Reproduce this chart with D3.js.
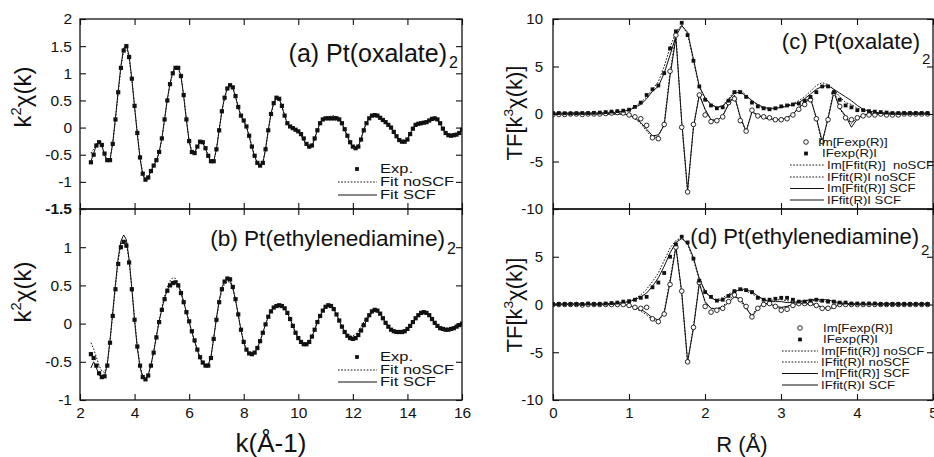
<!DOCTYPE html>
<html>
<head>
<meta charset="utf-8">
<script src="https://cdn.jsdelivr.net/npm/d3@7"></script>
<style>
  body { margin: 0; background: #fff; }
  svg { display: block; font-family: "Liberation Sans", Arial, Helvetica, sans-serif; }
</style>
</head>
<body>
<svg id="fig" width="934" height="457"></svg>
<script>
// ---------- k-space EXAFS, sampled from k = 2.4 in steps of 0.1 Å^-1 ----------
const kStart = 2.4, kStep = 0.1;

// (a) Pt(oxalate)2
const expA = [
-0.64,-0.50,-0.33,-0.27,-0.32,-0.48,-0.60,-0.60,-0.30,0.15,
0.65,1.10,1.42,1.50,1.30,0.90,0.40,-0.10,-0.55,-0.85,
-0.96,-0.92,-0.80,-0.70,-0.60,-0.45,-0.20,0.15,0.50,0.80,
1.00,1.10,1.10,0.95,0.60,0.15,-0.25,-0.45,-0.47,-0.35,
-0.26,-0.27,-0.38,-0.52,-0.62,-0.62,-0.40,-0.05,0.30,0.55,
0.72,0.78,0.74,0.58,0.38,0.22,0.13,0.02,-0.15,-0.35,
-0.52,-0.65,-0.70,-0.65,-0.40,-0.05,0.25,0.45,0.55,0.53,
0.40,0.22,0.08,0.02,-0.01,-0.04,-0.07,-0.12,-0.20,-0.30,
-0.35,-0.33,-0.20,-0.05,0.08,0.15,0.17,0.17,0.17,0.17,
0.17,0.15,0.08,-0.03,-0.15,-0.27,-0.35,-0.38,-0.35,-0.22,
-0.05,0.08,0.17,0.22,0.23,0.22,0.18,0.14,0.10,0.05,
0.00,-0.08,-0.16,-0.23,-0.26,-0.26,-0.22,-0.12,-0.02,0.05,
0.07,0.08,0.09,0.10,0.13,0.16,0.17,0.15,0.08,-0.02,
-0.10,-0.14,-0.15,-0.14,-0.13,-0.10,-0.04];
const fitNoScfA = [
-0.47,-0.40,-0.30,-0.28,-0.34,-0.49,-0.60,-0.58,-0.30,0.14,
0.63,1.10,1.43,1.49,1.28,0.88,0.40,-0.10,-0.54,-0.84,
-0.95,-0.91,-0.80,-0.70,-0.60,-0.45,-0.21,0.14,0.50,0.80,
1.00,1.09,1.09,0.94,0.60,0.16,-0.24,-0.44,-0.46,-0.35,
-0.27,-0.28,-0.38,-0.52,-0.62,-0.61,-0.41,-0.06,0.29,0.54,
0.72,0.77,0.73,0.58,0.38,0.22,0.13,0.02,-0.15,-0.35,
-0.52,-0.65,-0.69,-0.64,-0.40,-0.06,0.24,0.44,0.54,0.52,
0.40,0.22,0.08,0.02,-0.01,-0.04,-0.07,-0.13,-0.21,-0.31,
-0.35,-0.32,-0.19,-0.04,0.09,0.16,0.18,0.19,0.21,0.22,
0.20,0.15,0.07,-0.04,-0.16,-0.28,-0.35,-0.37,-0.33,-0.20,
-0.04,0.09,0.18,0.22,0.22,0.21,0.17,0.13,0.09,0.04,
0.00,-0.07,-0.15,-0.22,-0.25,-0.25,-0.21,-0.11,-0.02,0.05,
0.07,0.09,0.10,0.11,0.13,0.15,0.16,0.14,0.08,-0.02,
-0.10,-0.14,-0.15,-0.15,-0.13,-0.10,-0.05];
const fitScfA = [
-0.62,-0.48,-0.32,-0.27,-0.33,-0.50,-0.62,-0.60,-0.28,0.18,
0.68,1.14,1.46,1.53,1.32,0.90,0.38,-0.12,-0.57,-0.87,
-0.97,-0.92,-0.80,-0.70,-0.61,-0.46,-0.20,0.16,0.52,0.82,
1.02,1.12,1.11,0.95,0.58,0.13,-0.26,-0.46,-0.47,-0.35,
-0.27,-0.28,-0.39,-0.53,-0.63,-0.62,-0.40,-0.04,0.31,0.56,
0.73,0.77,0.73,0.57,0.37,0.21,0.12,0.01,-0.16,-0.36,
-0.53,-0.66,-0.71,-0.66,-0.40,-0.04,0.26,0.46,0.56,0.53,
0.39,0.21,0.07,0.01,-0.02,-0.05,-0.08,-0.14,-0.23,-0.33,
-0.38,-0.35,-0.21,-0.05,0.09,0.16,0.18,0.18,0.18,0.19,
0.20,0.16,0.08,-0.04,-0.16,-0.28,-0.36,-0.38,-0.35,-0.21,
-0.04,0.09,0.18,0.23,0.24,0.22,0.18,0.14,0.10,0.04,
-0.01,-0.09,-0.17,-0.24,-0.27,-0.26,-0.21,-0.11,-0.01,0.05,
0.07,0.08,0.09,0.11,0.14,0.16,0.17,0.14,0.07,-0.03,
-0.11,-0.15,-0.15,-0.14,-0.12,-0.09,-0.03];

// (b) Pt(ethylenediamine)2
const expB = [
-0.40,-0.45,-0.55,-0.65,-0.70,-0.69,-0.55,-0.25,0.10,0.45,
0.78,1.00,1.07,1.02,0.80,0.45,0.05,-0.30,-0.55,-0.70,
-0.73,-0.68,-0.55,-0.38,-0.18,0.02,0.18,0.32,0.43,0.50,
0.53,0.54,0.50,0.40,0.28,0.15,0.03,-0.10,-0.22,-0.34,
-0.44,-0.51,-0.55,-0.55,-0.45,-0.20,0.05,0.28,0.45,0.55,
0.59,0.58,0.48,0.32,0.12,-0.08,-0.24,-0.34,-0.39,-0.40,
-0.38,-0.32,-0.23,-0.12,-0.01,0.09,0.16,0.21,0.23,0.24,
0.23,0.20,0.14,0.06,-0.03,-0.12,-0.19,-0.24,-0.27,-0.27,
-0.24,-0.17,-0.08,0.02,0.10,0.17,0.22,0.24,0.23,0.19,
0.12,0.04,-0.04,-0.11,-0.16,-0.19,-0.20,-0.19,-0.15,-0.09,
-0.02,0.05,0.11,0.16,0.18,0.17,0.13,0.07,0.01,-0.04,
-0.08,-0.10,-0.11,-0.11,-0.11,-0.10,-0.07,-0.03,0.02,0.07,
0.11,0.14,0.15,0.14,0.11,0.06,0.01,-0.03,-0.06,-0.07,
-0.08,-0.08,-0.07,-0.06,-0.04,-0.02,0.00];
const fitNoScfB = [
-0.25,-0.33,-0.44,-0.55,-0.62,-0.64,-0.52,-0.24,0.12,0.48,
0.82,1.04,1.10,1.05,0.82,0.47,0.07,-0.29,-0.54,-0.69,
-0.73,-0.68,-0.55,-0.37,-0.16,0.04,0.21,0.36,0.48,0.56,
0.60,0.59,0.53,0.42,0.29,0.15,0.02,-0.11,-0.23,-0.34,
-0.44,-0.51,-0.54,-0.53,-0.43,-0.19,0.06,0.28,0.44,0.52,
0.55,0.54,0.46,0.31,0.12,-0.08,-0.24,-0.34,-0.39,-0.40,
-0.38,-0.32,-0.23,-0.12,-0.01,0.09,0.16,0.21,0.23,0.24,
0.23,0.20,0.14,0.06,-0.03,-0.12,-0.19,-0.24,-0.27,-0.27,
-0.24,-0.17,-0.08,0.02,0.10,0.17,0.22,0.24,0.23,0.19,
0.12,0.04,-0.04,-0.10,-0.14,-0.16,-0.16,-0.14,-0.10,-0.04,
0.02,0.07,0.11,0.14,0.16,0.15,0.12,0.07,0.01,-0.04,
-0.08,-0.10,-0.11,-0.11,-0.11,-0.10,-0.07,-0.03,0.02,0.07,
0.11,0.14,0.15,0.14,0.11,0.06,0.01,-0.03,-0.06,-0.07,
-0.08,-0.08,-0.07,-0.06,-0.04,-0.02,0.00];
const fitScfB = [
-0.58,-0.50,-0.58,-0.67,-0.71,-0.69,-0.53,-0.22,0.15,0.52,
0.86,1.08,1.16,1.10,0.84,0.46,0.04,-0.32,-0.57,-0.71,
-0.73,-0.67,-0.54,-0.37,-0.17,0.03,0.19,0.33,0.44,0.51,
0.54,0.54,0.50,0.40,0.28,0.15,0.02,-0.11,-0.23,-0.35,
-0.45,-0.52,-0.55,-0.54,-0.44,-0.19,0.07,0.30,0.47,0.56,
0.59,0.57,0.47,0.31,0.11,-0.09,-0.25,-0.35,-0.40,-0.41,
-0.38,-0.32,-0.23,-0.12,-0.01,0.09,0.16,0.21,0.23,0.24,
0.23,0.20,0.14,0.06,-0.03,-0.12,-0.19,-0.24,-0.27,-0.27,
-0.24,-0.17,-0.08,0.02,0.10,0.17,0.22,0.24,0.23,0.19,
0.12,0.04,-0.04,-0.11,-0.16,-0.19,-0.20,-0.19,-0.15,-0.09,
-0.03,0.04,0.10,0.15,0.18,0.17,0.13,0.07,0.01,-0.04,
-0.08,-0.10,-0.11,-0.12,-0.11,-0.10,-0.07,-0.03,0.02,0.07,
0.11,0.14,0.15,0.14,0.11,0.06,0.01,-0.03,-0.06,-0.07,
-0.08,-0.08,-0.08,-0.07,-0.05,-0.03,-0.01];

// ---------- Fourier transforms, sampled from R = 0 in steps of 0.077 Å ----------
const rStep = 0.077;

// (c) Pt(oxalate)2
const absExpC = [
0.10,0.10,0.08,0.06,0.08,0.10,0.10,0.12,0.15,0.20,
0.25,0.30,0.35,0.45,0.75,1.20,2.00,2.60,3.00,4.30,
6.90,8.70,9.60,8.30,5.60,2.90,1.50,0.90,0.60,0.70,
1.40,2.30,2.30,1.80,1.20,0.80,0.60,0.50,0.60,0.80,
0.90,1.00,1.10,1.40,1.80,2.30,2.90,2.90,2.30,1.50,
0.90,0.70,0.40,0.40,0.30,0.25,0.20,0.15,0.10,0.10,
0.10,0.10,0.10,0.10,0.10];
const imExpC = [
-0.05,-0.05,-0.05,0.00,0.00,-0.05,0.00,0.00,0.00,0.05,
0.10,0.15,0.10,-0.10,-0.30,-0.50,-1.20,-2.50,-2.60,-1.10,
4.50,8.30,-1.40,-8.20,-1.10,2.00,-0.10,-0.80,-0.70,-0.30,
1.20,1.60,-0.70,-1.80,0.40,-0.20,-0.30,-0.40,-0.60,-0.60,
-0.50,-0.10,0.50,1.00,1.50,-0.50,-2.90,-0.60,2.20,0.80,
-0.40,-0.60,-0.40,-0.20,-0.10,-0.10,0.00,-0.10,-0.10,-0.10,
0.00,0.00,0.00,0.00,0.00];
const imFitNoScfC = [
0,0,0,0,0,0,0,0,0,0,
0,0,0,-0.10,-0.50,-1.00,-1.80,-2.50,-2.40,-1.00,
4.40,8.40,-1.00,-8.30,-1.30,2.10,0.40,-0.60,-0.70,-0.20,
1.10,2.00,-0.40,-1.90,0.30,-0.10,-0.40,-0.50,-0.60,-0.60,
-0.40,0.00,0.70,1.30,1.80,-0.50,-3.10,-0.40,2.60,0.50,
-0.30,-1.00,-0.40,-0.10,0,0,0,0,0,0,
0,0,0,0,0];
const absFitNoScfC = [
0.10,0.10,0.10,0.10,0.10,0.10,0.10,0.10,0.10,0.10,
0.10,0.20,0.30,0.45,0.80,1.20,1.80,2.60,3.40,5.00,
7.00,8.60,9.40,8.40,5.60,2.80,1.60,1.00,0.70,0.90,
1.60,2.40,2.50,2.00,1.40,0.90,0.60,0.50,0.60,0.70,
0.90,1.10,1.40,1.80,2.40,3.00,3.30,3.10,2.60,1.80,
1.20,1.00,0.60,0.40,0.20,0.10,0.10,0.10,0.10,0.10,
0.10,0.10,0.10,0.10,0.10];
const imFitScfC = [
0,0,0,0,0,0,0,0,0,0,
0,0,0,-0.10,-0.40,-0.90,-1.60,-2.30,-2.20,-1.20,
4.00,8.00,-0.80,-8.00,-1.40,2.00,0.50,-0.60,-0.70,-0.20,
1.00,1.90,-0.30,-1.80,0.20,-0.10,-0.40,-0.50,-0.60,-0.60,
-0.40,0.00,0.60,1.20,1.60,-0.40,-2.90,-0.50,2.30,0.60,
-0.20,-1.40,-0.50,-0.10,0,0,0,0,0,0,
0,0,0,0,0];
const absFitScfC = [
0.10,0.10,0.10,0.10,0.10,0.10,0.10,0.10,0.10,0.10,
0.10,0.20,0.30,0.40,0.70,1.00,1.60,2.40,2.90,4.30,
6.20,8.20,9.30,8.60,5.80,2.90,1.70,1.00,0.70,0.80,
1.50,2.20,2.30,1.90,1.40,1.00,0.70,0.60,0.60,0.70,
0.80,1.00,1.20,1.60,2.10,2.60,2.90,3.00,2.60,2.20,
1.80,1.40,0.90,0.50,0.30,0.20,0.10,0.10,0.10,0.10,
0.10,0.10,0.10,0.10,0.10];

// (d) Pt(ethylenediamine)2
const absExpD = [
0.05,0.05,0.05,0.05,0.05,0.05,0.10,0.05,0.05,0.10,
0.15,0.20,0.30,0.35,0.50,0.70,0.80,1.80,2.30,3.30,
5.00,6.30,7.10,6.50,4.80,2.50,1.30,0.80,0.40,0.50,
0.90,1.40,1.60,1.50,1.30,0.70,0.50,0.50,0.60,0.70,
0.70,0.50,0.30,0.30,0.40,0.50,0.40,0.30,0.30,0.20,
0.20,0.10,0.10,0.10,0.10,0.10,0.05,0.05,0.05,0.05,
0.05,0.05,0.05,0.05,0.05];
const imExpD = [
0,0,0,0,0,-0.05,0,0,0,0,
0,0,0,-0.10,-0.30,-0.40,-0.30,-1.50,-1.80,-1.00,
2.10,6.00,1.40,-6.00,-2.40,2.30,-0.20,-0.80,-0.60,-0.40,
0.30,1.00,0.50,-0.20,-1.30,-0.40,0.00,0.10,-0.20,-0.60,
-0.50,-0.10,0.10,0.10,0.10,-0.10,-0.40,-0.40,-0.20,0.00,
0,0,0,0,0,0,0,0,0,0,
0,0,0,0,0];
const imFitNoScfD = [
0,0,0,0,0,0,0,0,0,0,
0,0,0,-0.10,-0.40,-0.70,-1.10,-1.60,-1.90,-0.70,
2.60,6.20,1.00,-6.10,-2.30,2.30,0.20,-0.40,-0.40,-0.20,
0.40,1.00,0.40,-0.50,-1.10,-0.30,0.10,0.00,-0.30,-0.40,
-0.20,0.00,0.10,0.10,0.00,-0.10,-0.30,-0.30,-0.10,0.00,
0,0,0,0,0,0,0,0,0,0,
0,0,0,0,0];
const absFitNoScfD = [
0.05,0.05,0.05,0.05,0.05,0.05,0.05,0.05,0.05,0.05,
0.10,0.15,0.20,0.35,0.60,1.00,1.60,2.40,3.30,4.60,
5.90,6.70,7.00,6.30,4.70,2.60,1.30,0.70,0.50,0.70,
1.10,1.40,1.50,1.40,1.10,0.80,0.50,0.40,0.50,0.50,
0.40,0.30,0.30,0.40,0.40,0.40,0.30,0.30,0.20,0.10,
0.05,0.05,0.05,0.05,0.05,0.05,0.05,0.05,0.05,0.05,
0.05,0.05,0.05,0.05,0.05];
const imFitScfD = [
0,0,0,0,0,0,0,0,0,0,
0,0,0,-0.10,-0.30,-0.50,-0.90,-1.40,-1.60,-0.90,
2.30,6.00,1.30,-6.00,-2.50,2.20,0.30,-0.40,-0.50,-0.30,
0.20,0.80,0.60,-0.30,-1.30,-0.40,0.10,0.10,-0.20,-0.30,
-0.20,0.00,0.10,0.10,0.10,0.00,-0.30,-0.50,-0.30,0.00,
0,0,0,0,0,0,0,0,0,0,
0,0,0,0,0];
const absFitScfD = [
0.05,0.05,0.05,0.05,0.05,0.05,0.05,0.05,0.05,0.05,
0.10,0.15,0.20,0.30,0.50,0.80,1.20,1.90,2.80,4.00,
5.40,6.50,6.90,6.40,4.90,2.70,1.40,0.70,0.40,0.50,
0.90,1.30,1.60,1.60,1.30,0.90,0.50,0.30,0.30,0.30,
0.20,0.20,0.30,0.40,0.50,0.50,0.50,0.50,0.30,0.20,
0.10,0.05,0.05,0.05,0.05,0.05,0.05,0.05,0.05,0.05,
0.05,0.05,0.05,0.05,0.05];

// ---------- tick values ----------
const kTicks = [2, 4, 6, 8, 10, 12, 14, 16];
const rTicks = [0, 1, 2, 3, 4, 5];
const yTicksA = [-1.5, -1, -0.5, 0, 0.5, 1, 1.5, 2];
const yTicksB = [-1, -0.5, 0, 0.5, 1, 1.5];
const yLabelsB = [-1, -0.5, 0, 0.5, 1];
const ftTicks = [-10, -5, 0, 5, 10];
const ftLabelsD = [-10, -5, 0, 5];

// ---------- drawing ----------
const svg = d3.select("#fig");
const ink = "#111";

const kGrid = expA.map((_, i) => +(kStart + i * kStep).toFixed(2));
const rGrid = absExpC.map((_, i) => +(i * rStep).toFixed(3));

const xK = d3.scaleLinear().domain([2, 16]).range([80, 462]);
const xR = d3.scaleLinear().domain([0, 5]).range([553, 933]);
const yA = d3.scaleLinear().domain([-1.5, 2]).range([209, 19]);
const yB = d3.scaleLinear().domain([-1, 1.5]).range([400, 209]);
const yC = d3.scaleLinear().domain([-10, 10]).range([209, 19]);
const yD = d3.scaleLinear().domain([-10, 10]).range([400, 209]);

let clipId = 0;
function panel(x, y) {
  const id = "clip" + (clipId++);
  svg.append("clipPath").attr("id", id).append("rect")
    .attr("x", x.range()[0]).attr("y", y.range()[1])
    .attr("width", x.range()[1] - x.range()[0])
    .attr("height", y.range()[0] - y.range()[1]);
  return svg.append("g").attr("clip-path", `url(#${id})`);
}

function frame(x, y) {
  svg.append("rect")
    .attr("x", x.range()[0]).attr("y", y.range()[1])
    .attr("width", x.range()[1] - x.range()[0])
    .attr("height", y.range()[0] - y.range()[1])
    .attr("fill", "none").attr("stroke", ink).attr("stroke-width", 1.3);
}

function styleAxis(g, size) {
  g.attr("font-family", null).attr("font-size", null).attr("color", ink);
  g.select(".domain").remove();
  g.selectAll(".tick line").attr("stroke-width", 1.1);
  g.selectAll(".tick text").attr("font-size", size).attr("fill", ink);
}

function yAxes(x, y, ticks, labels, pad, size) {
  const gl = svg.append("g").attr("transform", `translate(${x.range()[0]},0)`)
    .call(d3.axisLeft(y).tickValues(ticks).tickSize(-6).tickPadding(pad)
      .tickFormat(d => labels.includes(d) ? String(d) : ""));
  styleAxis(gl, size);
  const gr = svg.append("g").attr("transform", `translate(${x.range()[1]},0)`)
    .call(d3.axisRight(y).tickValues(ticks).tickSize(-6).tickFormat(""));
  styleAxis(gr, size);
  return gl;
}

function xTopTicks(x, y, ticks) {
  const g = svg.append("g").attr("transform", `translate(0,${y.range()[1]})`)
    .call(d3.axisTop(x).tickValues(ticks).tickSize(-6).tickFormat(""));
  styleAxis(g, 10);
}

function xBottom(x, y, ticks, size, withLabels) {
  const g = svg.append("g").attr("transform", `translate(0,${y.range()[0]})`)
    .call(d3.axisBottom(x).tickValues(ticks).tickSize(-6).tickPadding(7)
      .tickFormat(withLabels ? (d => String(d)) : ""));
  styleAxis(g, size);
}

function lineOn(g, x, grid, y, vals, dashed) {
  const line = d3.line().x((d, i) => x(grid[i])).y(d => y(d));
  g.append("path").datum(vals).attr("d", line)
    .attr("fill", "none").attr("stroke", ink).attr("stroke-width", 1)
    .attr("stroke-dasharray", dashed ? "1.6,1.6" : null);
}

function squaresOn(g, x, grid, y, vals, s) {
  g.selectAll(null).data(vals).join("rect")
    .attr("x", (d, i) => x(grid[i]) - s / 2).attr("y", d => y(d) - s / 2)
    .attr("width", s).attr("height", s).attr("fill", ink);
}

function circlesOn(g, x, grid, y, vals, r) {
  g.selectAll(null).data(vals).join("circle")
    .attr("cx", (d, i) => x(grid[i])).attr("cy", d => y(d)).attr("r", r)
    .attr("fill", "#fff").attr("stroke", ink).attr("stroke-width", 0.9);
}

// --- k-space panels ---
[[yA, expA, fitNoScfA, fitScfA], [yB, expB, fitNoScfB, fitScfB]].forEach(([y, e, n, s]) => {
  const g = panel(xK, y);
  lineOn(g, xK, kGrid, y, n, true);
  lineOn(g, xK, kGrid, y, s, false);
  squaresOn(g, xK, kGrid, y, e, 4.2);
});

// --- R-space panels ---
[[yC, imExpC, absExpC, imFitNoScfC, absFitNoScfC, imFitScfC, absFitScfC],
 [yD, imExpD, absExpD, imFitNoScfD, absFitNoScfD, imFitScfD, absFitScfD]]
.forEach(([y, im, ab, imN, abN, imS, abS]) => {
  const g = panel(xR, y);
  lineOn(g, xR, rGrid, y, imN, true);
  lineOn(g, xR, rGrid, y, abN, true);
  lineOn(g, xR, rGrid, y, imS, false);
  lineOn(g, xR, rGrid, y, abS, false);
  circlesOn(g, xR, rGrid, y, im, 2.3);
  squaresOn(g, xR, rGrid, y, ab, 3.8);
});

// frames and axes
frame(xK, yA); frame(xK, yB); frame(xR, yC); frame(xR, yD);

const gA = yAxes(xK, yA, yTicksA, yTicksA, 8, 15.5);
gA.selectAll(".tick text").filter(d => d === -1.5).attr("font-weight", "bold");
yAxes(xK, yB, yTicksB, yLabelsB, 8, 15.5);
yAxes(xR, yC, ftTicks, ftTicks, 10, 15);
yAxes(xR, yD, ftTicks, ftLabelsD, 10, 15);

xTopTicks(xK, yA, kTicks); xTopTicks(xK, yB, kTicks);
xTopTicks(xR, yC, rTicks); xTopTicks(xR, yD, rTicks);
xBottom(xK, yA, kTicks, 15.5, false);
xBottom(xK, yB, kTicks, 15.5, true);
xBottom(xR, yC, rTicks, 15, false);
xBottom(xR, yD, rTicks, 15, true);

// panel titles with subscript
function title(xEnd, base, main, size, subBase, subSize) {
  svg.append("text").attr("x", xEnd).attr("y", base).attr("text-anchor", "end")
    .attr("font-size", size).attr("fill", ink).text(main);
  svg.append("text").attr("x", xEnd + 2).attr("y", subBase)
    .attr("font-size", subSize).attr("fill", ink).text("2");
}
title(447, 62, "(a) Pt(oxalate)", 25, 68, 16);
title(445, 246, "(b) Pt(ethylenediamine)", 22.6, 254, 16);
title(920, 49, "(c) Pt(oxalate)", 22, 64, 15);
title(919, 244, "(d) Pt(ethylenediamine)", 22, 255, 15);

// axis titles
function yTitle(x, y, pre, sup, post, size) {
  const t = svg.append("text").attr("transform", `translate(${x},${y}) rotate(-90)`)
    .attr("text-anchor", "middle").attr("font-size", size).attr("fill", ink);
  t.append("tspan").text(pre);
  t.append("tspan").attr("font-size", size * 0.62).attr("dy", -size * 0.42).text(sup);
  t.append("tspan").attr("dy", size * 0.42).text(post);
}
yTitle(31, 97, "k", "2", "χ(k)", 24);
yTitle(31, 292, "k", "2", "χ(k)", 24);
yTitle(522, 113, "TF[k", "3", "χ(k)]", 22);
yTitle(522, 305, "TF[k", "3", "χ(k)]", 22);

svg.append("text").attr("x", 271).attr("y", 452).attr("text-anchor", "middle")
  .attr("font-size", 26).attr("fill", ink).text("k(Å-1)");
svg.append("text").attr("x", 742).attr("y", 452).attr("text-anchor", "middle")
  .attr("font-size", 22).attr("fill", ink).text("R (Å)");

// legends: text is set slightly condensed vertically so rows stay tight
function legendText(x, y, str, size, squash) {
  svg.append("text").attr("transform", `translate(${x},${y}) scale(1,${squash})`)
    .attr("dy", "0.35em").attr("font-size", size).attr("fill", ink)
    .style("white-space", "pre").text(str);
}
function legendLine(x0, x1, y, dashed) {
  svg.append("line").attr("x1", x0).attr("x2", x1).attr("y1", y).attr("y2", y)
    .attr("stroke", ink).attr("stroke-width", 1)
    .attr("stroke-dasharray", dashed ? "1.6,1.6" : null);
}
function legendSquare(x, y, s) {
  svg.append("rect").attr("x", x - s / 2).attr("y", y - s / 2)
    .attr("width", s).attr("height", s).attr("fill", ink);
}
function legendCircle(x, y, r) {
  svg.append("circle").attr("cx", x).attr("cy", y).attr("r", r)
    .attr("fill", "#fff").attr("stroke", ink).attr("stroke-width", 0.9);
}

// (a) and (b)
[[169, 182, 195], [357, 370, 382]].forEach(([r0, r1, r2]) => {
  legendSquare(357, r0, 3.8); legendText(380, r0, "Exp.", 16.5, 0.74);
  legendLine(338, 377, r1, true); legendText(380, r1, "Fit noSCF", 16.5, 0.74);
  legendLine(338, 377, r2, false); legendText(380, r2, "Fit SCF", 16.5, 0.74);
});

// (c)
{
  const rows = [142, 153.5, 165, 177, 188.5, 200];
  const f = 13.2, q = 0.82;
  legendCircle(806, rows[0], 2.3); legendText(818, rows[0], "Im[Fexp(R)]", f, q);
  legendSquare(806, rows[1], 3.8); legendText(822, rows[1], "IFexp(R)I", f, q);
  legendLine(790, 824, rows[2], true); legendText(827, rows[2], "Im[Ffit(R)]  noSCF", f, q);
  legendLine(790, 824, rows[3], true); legendText(827, rows[3], "IFfit(R)I noSCF", f, q);
  legendLine(790, 824, rows[4], false); legendText(827, rows[4], "Im[Ffit(R)] SCF", f, q);
  legendLine(790, 824, rows[5], false); legendText(827, rows[5], "IFfit(R)I SCF", f, q);
}
// (d)
{
  const rows = [328, 339.5, 351, 362, 373.5, 385];
  const f = 13.2, q = 0.82;
  legendCircle(800, rows[0], 2.3); legendText(823, rows[0], "Im[Fexp(R)]", f, q);
  legendSquare(800, rows[1], 3.8); legendText(823, rows[1], "IFexp(R)I", f, q);
  legendLine(782, 818, rows[2], true); legendText(821, rows[2], "Im[Ffit(R)] noSCF", f, q);
  legendLine(782, 818, rows[3], true); legendText(821, rows[3], "IFfit(R)I noSCF", f, q);
  legendLine(782, 818, rows[4], false); legendText(821, rows[4], "Im[Ffit(R)] SCF", f, q);
  legendLine(782, 818, rows[5], false); legendText(821, rows[5], "IFfit(R)I SCF", f, q);
}
</script>
</body>
</html>
